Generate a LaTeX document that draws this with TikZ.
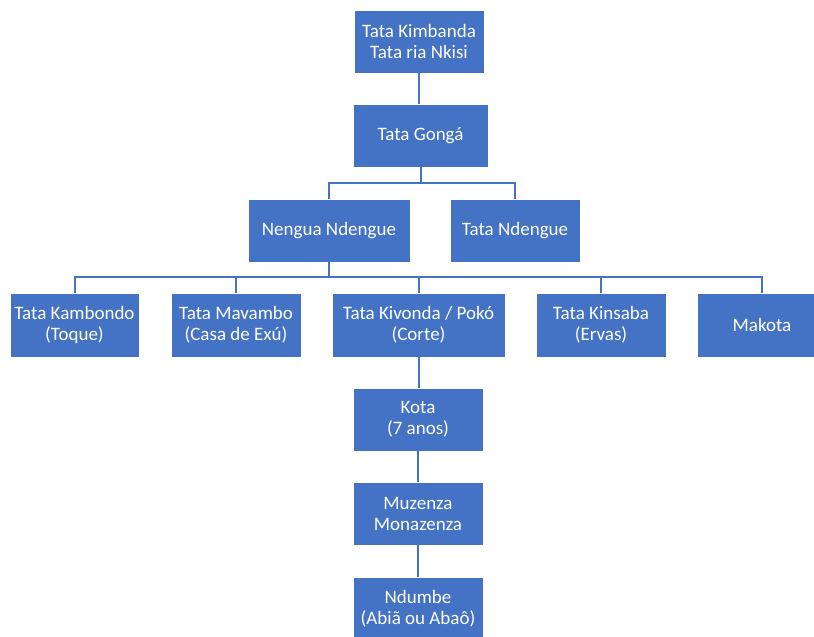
\documentclass[tikz,border=0pt]{standalone}
\usepackage{fontspec}
\setmainfont{Carlito}
\definecolor{boxblue}{HTML}{4472C4}
\definecolor{lineblue}{HTML}{4472C4}
\begin{document}
\begin{tikzpicture}[x=1pt,y=-1pt,
  box/.style={draw=white, line width=0.8pt, fill=boxblue, text=white, align=center,
    minimum height=63pt, inner sep=0pt, font=\fontsize{19}{21}\selectfont},
  conn/.style={draw=lineblue, line width=2pt}]
\useasboundingbox (0,0) rectangle (814,637);
\clip (0,0) rectangle (814,637);
\node[box, minimum width=130pt] (k) at (419,41.5) {Tata Kimbanda\\Tata ria Nkisi};
\node[box, minimum width=135pt] (g) at (420.5,135.5) {Tata Gongá};
\node[box, minimum width=162pt] (nn) at (329,230.5) {Nengua Ndengue};
\node[box, minimum width=130pt] (tn) at (515,230.5) {Tata Ndengue};
\node[box, minimum width=129pt, minimum height=64pt] (kb) at (74.5,325) {Tata Kambondo\\(Toque)};
\node[box, minimum width=130pt, minimum height=64pt] (mv) at (236,325) {Tata Mavambo\\(Casa de Exú)};
\node[box, minimum width=173pt, minimum height=64pt] (kv) at (418.5,325) {Tata Kivonda / Pokó\\(Corte)};
\node[box, minimum width=130pt, minimum height=64pt] (ks) at (601,325) {Tata Kinsaba\\(Ervas)};
\node[box, minimum width=130pt, minimum height=64pt] (mk) at (762,325) {Makota};
\node[box, minimum width=130pt] (kota) at (418,419.5) {Kota\\(7 anos)};
\node[box, minimum width=130pt] (muz) at (418,513.5) {Muzenza\\Monazenza};
\node[box, minimum width=130pt] (nd) at (418,608.5) {Ndumbe\\(Abiã ou Abaô)};
\coordinate (b1) at (420.5,183);
\coordinate (b2) at (329,277);
\draw[conn] (k.south) -- (k.south |- g.north);
\draw[conn] (g.south) -- (b1);
\draw[conn] (nn.north) |- (b1) -| (tn.north);
\draw[conn] (nn.south) -- (b2);
\draw[conn] (kb.north) |- (b2) -| (mk.north);
\draw[conn] (mv.north) -- (mv.north |- b2);
\draw[conn] (kv.north) -- (kv.north |- b2);
\draw[conn] (ks.north) -- (ks.north |- b2);
\draw[conn] (kv.south) -- (kv.south |- kota.north);
\draw[conn] (kota.south) -- (muz.north);
\draw[conn] (muz.south) -- (nd.north);
\end{tikzpicture}
\end{document}
